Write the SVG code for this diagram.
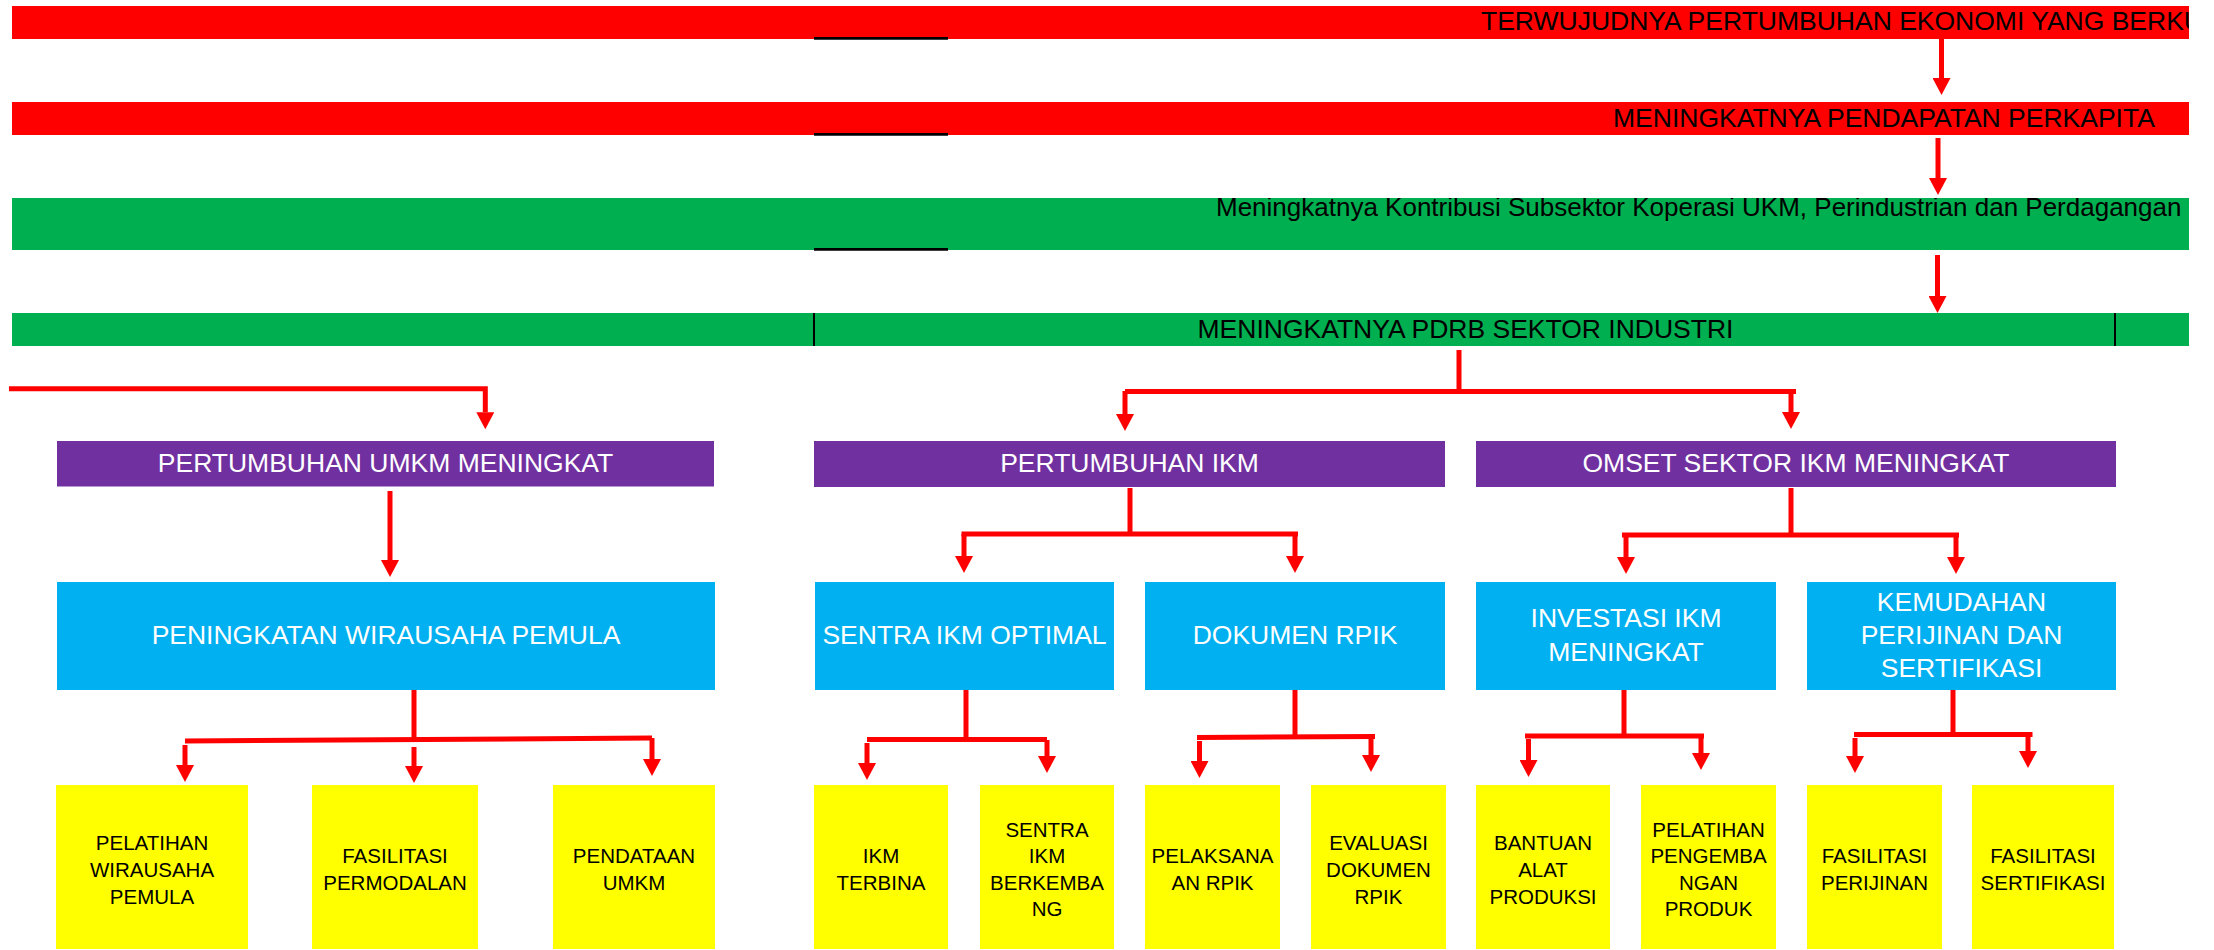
<svg xmlns="http://www.w3.org/2000/svg" width="2214" height="950" viewBox="0 0 2214 950">
<style>
text{font-family:"Liberation Sans",Arial,sans-serif}
.big{font-size:26.5px}
.sm{font-size:20.5px;fill:#000;text-anchor:middle}
.w{fill:#fff;text-anchor:middle}
.k{fill:#000}
.red{fill:#FF0000}
.grn{fill:#00AF50}
.pur{fill:#7030A0}
.blu{fill:#00B0F0}
.yel{fill:#FFFF00}
.c{fill:none;stroke:#FF0000;stroke-width:5}
.a{fill:none;stroke:#FF0000;stroke-width:5;marker-end:url(#ah)}
.bl{stroke:#000;fill:none}
</style>
<defs>
<marker id="ah" markerUnits="userSpaceOnUse" markerWidth="18" markerHeight="18" viewBox="0 0 17 18" refX="0" refY="9" orient="auto">
<path d="M0,0 L17,9 L0,18 z" fill="#FF0000"/>
</marker>
<clipPath id="bandclip"><rect x="12" y="0" width="2177" height="400"/></clipPath>
<clipPath id="b3clip"><rect x="12" y="198" width="2177" height="52"/></clipPath>
</defs>

<g id="band1">
<rect class="red" x="12" y="6" width="2177" height="33"/>
<text class="big k" x="1481" y="30" clip-path="url(#bandclip)">TERWUJUDNYA PERTUMBUHAN EKONOMI YANG BERKU</text>
<line class="bl" x1="814" y1="38.3" x2="948" y2="38.3" stroke-width="2.7"/>
</g>
<g id="band2">
<rect class="red" x="12" y="102" width="2177" height="33"/>
<text class="big k" x="1613" y="127">MENINGKATNYA PENDAPATAN PERKAPITA</text>
<line class="bl" x1="814" y1="134.3" x2="948" y2="134.3" stroke-width="2.7"/>
</g>
<g id="band3">
<rect class="grn" x="12" y="198" width="2177" height="52"/>
<text class="k" font-size="26" x="1216" y="216" clip-path="url(#b3clip)">Meningkatnya Kontribusi Subsektor Koperasi UKM, Perindustrian dan Perdagangan t</text>
<line class="bl" x1="814" y1="249.3" x2="948" y2="249.3" stroke-width="2.7"/>
</g>
<g id="band4">
<rect class="grn" x="12" y="313" width="2177" height="33"/>
<line class="bl" x1="814" y1="313" x2="814" y2="346" stroke-width="2"/>
<line class="bl" x1="2115" y1="313" x2="2115" y2="346" stroke-width="2"/>
<text class="big k" x="1465.5" y="337.5" text-anchor="middle">MENINGKATNYA PDRB SEKTOR INDUSTRI</text>
</g>

<g id="p1"><rect class="pur" x="57" y="441" width="657" height="45.5"/><text class="big w" x="385.5" y="472">PERTUMBUHAN UMKM MENINGKAT</text></g>
<g id="p2"><rect class="pur" x="814" y="441" width="631" height="46"/><text class="big w" x="1129.5" y="472">PERTUMBUHAN IKM</text></g>
<g id="p3"><rect class="pur" x="1476" y="441" width="640" height="46"/><text class="big w" x="1796" y="472">OMSET SEKTOR IKM MENINGKAT</text></g>

<g id="b1"><rect class="blu" x="57" y="582" width="658" height="108"/><text class="big w" x="386" y="644">PENINGKATAN WIRAUSAHA PEMULA</text></g>
<g id="b2"><rect class="blu" x="815" y="582" width="299" height="108"/><text class="big w" x="964.5" y="644">SENTRA IKM OPTIMAL</text></g>
<g id="b3"><rect class="blu" x="1145" y="582" width="300" height="108"/><text class="big w" x="1295" y="644">DOKUMEN RPIK</text></g>
<g id="b4"><rect class="blu" x="1476" y="582" width="300" height="108"/><text class="big w" x="1626" y="627">INVESTASI IKM<tspan x="1626" y="661">MENINGKAT</tspan></text></g>
<g id="b5"><rect class="blu" x="1807" y="582" width="309" height="108"/><text class="big w" x="1961.5" y="611">KEMUDAHAN<tspan x="1961.5" y="644">PERIJINAN DAN</tspan><tspan x="1961.5" y="677">SERTIFIKASI</tspan></text></g>

<g id="y1"><rect class="yel" x="56" y="785" width="192" height="164"/><text class="sm" x="152" y="850">PELATIHAN<tspan x="152" y="877">WIRAUSAHA</tspan><tspan x="152" y="903.5">PEMULA</tspan></text></g>
<g id="y2"><rect class="yel" x="312" y="785" width="166" height="164"/><text class="sm" x="395" y="863">FASILITASI<tspan x="395" y="889.5">PERMODALAN</tspan></text></g>
<g id="y3"><rect class="yel" x="553" y="785" width="162" height="164"/><text class="sm" x="634" y="863">PENDATAAN<tspan x="634" y="889.5">UMKM</tspan></text></g>
<g id="y4"><rect class="yel" x="814" y="785" width="134" height="164"/><text class="sm" x="881" y="863">IKM<tspan x="881" y="889.5">TERBINA</tspan></text></g>
<g id="y5"><rect class="yel" x="980" y="785" width="134" height="164"/><text class="sm" x="1047" y="837">SENTRA<tspan x="1047" y="863">IKM</tspan><tspan x="1047" y="889.5">BERKEMBA</tspan><tspan x="1047" y="916">NG</tspan></text></g>
<g id="y6"><rect class="yel" x="1145" y="785" width="135" height="164"/><text class="sm" x="1212.5" y="863">PELAKSANA<tspan x="1212.5" y="889.5">AN RPIK</tspan></text></g>
<g id="y7"><rect class="yel" x="1311" y="785" width="135" height="164"/><text class="sm" x="1378.5" y="850">EVALUASI<tspan x="1378.5" y="877">DOKUMEN</tspan><tspan x="1378.5" y="903.5">RPIK</tspan></text></g>
<g id="y8"><rect class="yel" x="1476" y="785" width="134" height="164"/><text class="sm" x="1543" y="850">BANTUAN<tspan x="1543" y="877">ALAT</tspan><tspan x="1543" y="903.5">PRODUKSI</tspan></text></g>
<g id="y9"><rect class="yel" x="1641" y="785" width="135" height="164"/><text class="sm" x="1708.5" y="837">PELATIHAN<tspan x="1708.5" y="863">PENGEMBA</tspan><tspan x="1708.5" y="889.5">NGAN</tspan><tspan x="1708.5" y="916">PRODUK</tspan></text></g>
<g id="y10"><rect class="yel" x="1807" y="785" width="135" height="164"/><text class="sm" x="1874.5" y="863">FASILITASI<tspan x="1874.5" y="889.5">PERIJINAN</tspan></text></g>
<g id="y11"><rect class="yel" x="1972" y="785" width="142" height="164"/><text class="sm" x="2043" y="863">FASILITASI<tspan x="2043" y="889.5">SERTIFIKASI</tspan></text></g>

<g id="connectors">
<path class="a" d="M1941.5,39 V78"/>
<path class="a" d="M1938,138 V178"/>
<path class="a" d="M1937.5,255 V296"/>
<path class="a" d="M9,388.7 H485.3 V412.3" stroke-linejoin="miter"/>
<path class="c" d="M1459,350 V391"/>
<path class="c" d="M1125,391.5 H1796"/>
<path class="a" d="M1125,391 V414"/>
<path class="a" d="M1791,391 V412"/>
<path class="a" d="M390,491 V560"/>
<path class="c" d="M1130,488 V534"/>
<path class="c" d="M961.5,534 H1298"/>
<path class="a" d="M964,534 V556"/>
<path class="a" d="M1295,534 V556"/>
<path class="c" d="M1791,488 V535"/>
<path class="c" d="M1622,535 H1959"/>
<path class="a" d="M1626,535 V557"/>
<path class="a" d="M1956,535 V557"/>
<path class="c" d="M414,690 V740"/>
<path class="c" d="M185,741 L652,738"/>
<path class="a" d="M185,745 V765"/>
<path class="a" d="M414,747 V766"/>
<path class="a" d="M652,738 V759"/>
<path class="c" d="M966,690 V739"/>
<path class="c" d="M867,739.5 H1047"/>
<path class="a" d="M867,743 V763"/>
<path class="a" d="M1047,740 V756"/>
<path class="c" d="M1295,690 V737"/>
<path class="c" d="M1197,737.5 L1375,736.5"/>
<path class="a" d="M1199.5,741 V761"/>
<path class="a" d="M1371,737 V755"/>
<path class="c" d="M1624,690 V736"/>
<path class="c" d="M1525,736 H1704"/>
<path class="a" d="M1528.5,739 V760"/>
<path class="a" d="M1701,736 V753"/>
<path class="c" d="M1953,690 V734"/>
<path class="c" d="M1854,734.5 H2032.5"/>
<path class="a" d="M1855,738 V756"/>
<path class="a" d="M2028,735 V751"/>
</g>
</svg>
